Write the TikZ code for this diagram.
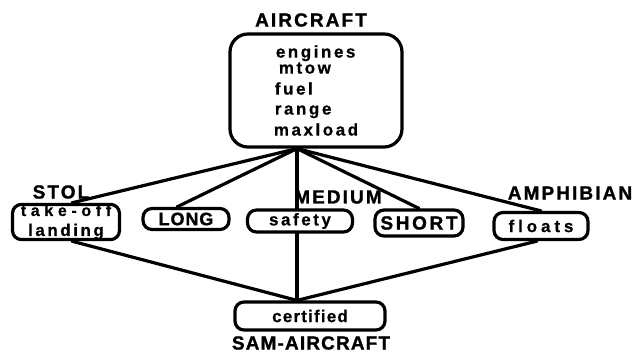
\documentclass[tikz,border=0pt]{standalone}
\usepackage{fontspec}
\setmainfont{Liberation Sans}
\newfontfamily\lblfam{Liberation Sans}[LetterSpace=11, BoldFeatures={FakeBold=1.2}]
\newfontfamily\txtfam{Liberation Sans}[LetterSpace=15, BoldFeatures={FakeBold=0.6}]
\usetikzlibrary{calc}
\newcommand\mylbl{\lblfam\bfseries\fontsize{19}{20}\selectfont}
\newcommand\mytxt{\txtfam\bfseries\fontsize{17}{20}\selectfont}
\tikzset{
  lbl/.style={font=\mylbl, inner sep=0pt},
  rbox/.style={draw, line width=3.2pt, rounded corners=9pt, inner sep=0pt, font=\mytxt, align=center},
  conn/.style={line width=3.2pt, line cap=round},
}
\begin{document}
\begin{tikzpicture}[x=1pt, y=-1pt]
\useasboundingbox (0,0) rectangle (640,353);
% labels
\node[lbl] (airlbl) at (311,20) {AIRCRAFT};
\node[lbl] (stollbl) at (61,192) {STOL};
\node[lbl] (medlbl) at (338,197) {MEDIUM};
\node[lbl] (amphlbl) at (570,193) {AMPHIBIAN};
\node[lbl] (samlbl) at (311,343) {\addfontfeature{LetterSpace=6}SAM-AIRCRAFT};
% boxes
\node[rbox, rounded corners=18pt, minimum width=172pt, minimum height=113pt, align=left] (air) at (316,90.5)
  {\hspace*{2pt}engines\\[-4pt]\hspace*{5pt}mtow\\[1pt]\hspace*{1pt}fuel\\\hspace*{1pt}range\\[1pt]maxload};
\node[rbox, minimum width=107pt, minimum height=26pt] (stol) at (66,222)
  {\addfontfeature{LetterSpace=29}\fontsize{16}{14}\selectfont take-off\\landing};
\node[rbox, minimum width=86pt, minimum height=21pt] (long) at (186,219)
  {\lblfam\bfseries\addfontfeature{LetterSpace=5}\fontsize{18}{20}\selectfont LONG};
\node[rbox, minimum width=105pt, minimum height=22pt] (safety) at (300,221) {safety};
\node[rbox, minimum width=88pt, minimum height=26pt] (short) at (419,223)
  {\lblfam\bfseries\addfontfeature{LetterSpace=14}\fontsize{19}{20}\selectfont SHORT};
\node[rbox, minimum width=94pt, minimum height=27pt] (floats) at (541,226)
  {\addfontfeature{LetterSpace=23}floats};
\node[rbox, minimum width=150pt, minimum height=28pt] (cert) at (310,316)
  {\addfontfeature{LetterSpace=7}certified};
% hubs
\coordinate (hub) at ($(air.south)+(-19,0)$);
\coordinate (bot) at (hub |- cert.north);
% connectors
\draw[conn] (hub) -- ($(stol.north)+(6,0)$);
\draw[conn] (hub) -- ($(long.north)+(-9,0)$);
\draw[conn] (hub) -- (hub |- safety.north);
\draw[conn] (hub) -- (short.north);
\draw[conn] (hub) -- (floats.north);
\draw[conn] ($(stol.south)+(6,0)$) -- (bot);
\draw[conn] (hub |- safety.south) -- (bot);
\draw[conn] ($(floats.south)+(-4,0)$) -- (bot);
\end{tikzpicture}
\end{document}
